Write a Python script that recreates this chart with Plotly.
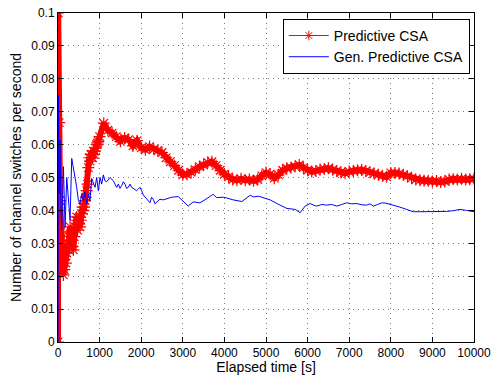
import plotly.graph_objects as go

# Predictive CSA (red, star markers)
red_t = [0, 5, 30, 50, 70, 90, 110, 130, 150, 170, 190, 210, 230, 250, 270, 290, 310, 330, 350, 370,
         390, 410, 430, 450, 470, 490, 510, 530, 550, 570, 590, 610, 630, 650, 670, 690, 710, 730, 750,
         770, 790, 810, 830, 850, 870, 890, 910, 930, 950, 970,
         1000, 1100, 1200, 1300, 1400, 1500, 1600, 1700, 1800, 1900,
         2000, 2100, 2200, 2300, 2400, 2500, 2600, 2700, 2800, 2900,
         3000, 3100, 3200, 3300, 3400, 3500, 3600, 3700, 3800, 3900,
         4000, 4100, 4200, 4300, 4400, 4500, 4600, 4700, 4800, 4900,
         5000, 5100, 5200, 5300, 5400, 5500, 5600, 5700, 5800, 5900,
         6000, 6100, 6200, 6300, 6400, 6500, 6600, 6700, 6800, 6900,
         7000, 7100, 7200, 7300, 7400, 7500, 7600, 7700, 7800, 7900,
         8000, 8100, 8200, 8300, 8400, 8500, 8600, 8700, 8800, 8900,
         9000, 9100, 9200, 9300, 9400, 9500, 9600, 9700, 9800, 9900, 10000]
red_v = [0, 0.1, 0.0667, 0.043, 0.0335, 0.028, 0.024, 0.0204, 0.022, 0.026, 0.024, 0.027, 0.030, 0.028,
         0.032, 0.035, 0.031, 0.033, 0.029, 0.028, 0.032, 0.035, 0.037, 0.038, 0.034, 0.036, 0.038, 0.035,
         0.037, 0.039, 0.041, 0.040, 0.041, 0.043, 0.044, 0.046, 0.048, 0.053, 0.056, 0.055, 0.057, 0.057,
         0.056, 0.058, 0.057, 0.058, 0.059, 0.060, 0.0605, 0.061,
         0.0624, 0.0665, 0.0644, 0.0635, 0.0624, 0.0610, 0.0620, 0.0615, 0.0596, 0.0612,
         0.0590, 0.0584, 0.0594, 0.0586, 0.0582, 0.0576, 0.0560, 0.0548, 0.0536, 0.0522,
         0.0508, 0.0510, 0.0516, 0.0524, 0.0533, 0.0538, 0.0546, 0.0548, 0.0536, 0.0522,
         0.0510, 0.0502, 0.0494, 0.0492, 0.0496, 0.0492, 0.0494, 0.0490, 0.0494, 0.0505,
         0.0515, 0.0510, 0.0498, 0.0508, 0.0522, 0.0528, 0.0530, 0.0534, 0.0538, 0.0530,
         0.0522, 0.0518, 0.0520, 0.0524, 0.0526, 0.0528, 0.0524, 0.0520, 0.0516, 0.0513,
         0.0518, 0.0520, 0.0522, 0.0523, 0.0520, 0.0516, 0.0512, 0.0508, 0.0505, 0.0502,
         0.0514, 0.0514, 0.0512, 0.0508, 0.0504, 0.0498, 0.0494, 0.0492, 0.0490, 0.0490,
         0.0488, 0.0489, 0.0486, 0.0488, 0.0494, 0.0495, 0.0494, 0.0496, 0.0494, 0.0495, 0.0496]

# Gen. Predictive CSA (blue line)
blue_t = [0, 10, 30, 50, 70, 90, 130, 170, 210, 250, 290, 330, 370, 410, 450, 490, 530, 570, 610, 650,
          690, 730, 770, 810, 850, 890, 930, 970, 1010, 1050, 1090, 1130, 1170, 1210, 1250, 1290, 1330,
          1370, 1410, 1450, 1490, 1530, 1570, 1610, 1650, 1690, 1730, 1770, 1810, 1850, 1890, 1930, 1970,
          2010, 2050, 2130, 2210, 2250, 2290, 2330, 2370, 2450, 2530, 2610, 2730, 2890, 3010, 3130, 3250,
          3410, 3530, 3650, 3730, 3810, 3980, 4050, 4210, 4420, 4530, 4620, 4700, 4820, 4900, 5020, 5100,
          5260, 5380, 5500, 5700, 5820, 5940, 6060, 6140, 6220, 6340, 6460, 6580, 6700, 6820, 6940, 7060,
          7180, 7300, 7420, 7500, 7580, 7680, 7780, 7880, 7980, 8100, 8220, 8380, 8540, 8700, 8860, 9020,
          9180, 9340, 9500, 9660, 9820, 10000]
blue_v = [0, 0.075, 0.045, 0.0614, 0.040, 0.034, 0.0533, 0.035, 0.050, 0.043, 0.037, 0.0558, 0.053, 0.050,
          0.047, 0.043, 0.042, 0.045, 0.043, 0.0457, 0.042, 0.045, 0.043, 0.0497, 0.048, 0.047, 0.050, 0.046,
          0.050, 0.048, 0.0508, 0.049, 0.0487, 0.0495, 0.050, 0.0495, 0.049, 0.048, 0.047, 0.048, 0.0467,
          0.0475, 0.0487, 0.048, 0.0467, 0.047, 0.048, 0.047, 0.0467, 0.0462, 0.046, 0.0465, 0.047, 0.046,
          0.0447, 0.0435, 0.0423, 0.044, 0.0434, 0.042, 0.0425, 0.0434, 0.0432, 0.0436, 0.044, 0.0442, 0.0426,
          0.0413, 0.0426, 0.0423, 0.0432, 0.0442, 0.0449, 0.0439, 0.044, 0.0438, 0.0432, 0.0427, 0.0438,
          0.0446, 0.0441, 0.0443, 0.0440, 0.0436, 0.0432, 0.0421, 0.0414, 0.0406, 0.0403, 0.0393, 0.0413,
          0.0421, 0.0416, 0.0413, 0.0418, 0.0416, 0.0418, 0.0413, 0.0418, 0.0423, 0.0420, 0.0421, 0.0417,
          0.0416, 0.0420, 0.0413, 0.0418, 0.0423, 0.0422, 0.0419, 0.0414, 0.041, 0.0403, 0.0396, 0.0396,
          0.0396, 0.0398, 0.0398, 0.0397, 0.0399, 0.0403, 0.0400, 0.0396]

x_ticks = [0, 1000, 2000, 3000, 4000, 5000, 6000, 7000, 8000, 9000, 10000]
x_labels = ["0", "1000", "2000", "3000", "4000", "5000", "6000", "7000", "8000", "9000", "10000"]
y_ticks = [0, 0.01, 0.02, 0.03, 0.04, 0.05, 0.06, 0.07, 0.08, 0.09, 0.1]
y_labels = ["0", "0.01", "0.02", "0.03", "0.04", "0.05", "0.06", "0.07", "0.08", "0.09", "0.1"]

red_marker = dict(symbol="asterisk-open", size=10, color="#ff0000",
                  line=dict(color="#ff0000", width=1.2))

fig = go.Figure()
# Data trace (dense markers form a thick band)
fig.add_trace(go.Scatter(
    x=red_t, y=red_v, mode="lines+markers", name="Predictive CSA", showlegend=False,
    line=dict(color="#ff0000", width=6), marker=red_marker,
))
# Legend-only entry with thin line and one star
fig.add_trace(go.Scatter(
    x=[None], y=[None], mode="lines+markers", name="Predictive CSA",
    line=dict(color="#ff0000", width=1),
    marker=dict(symbol="asterisk-open", size=8, color="#ff0000",
                line=dict(color="#ff0000", width=1)),
))
fig.add_trace(go.Scatter(
    x=blue_t, y=blue_v, mode="lines", name="Gen. Predictive CSA",
    line=dict(color="#0000ff", width=1),
))

axis_common = dict(
    showline=True, linecolor="black", linewidth=1, mirror="allticks",
    ticks="inside", ticklen=5, tickcolor="black",
    showgrid=True, gridcolor="#777777", gridwidth=1, griddash="1px,4px",
    zeroline=False, automargin=False,
    tickfont=dict(family="Liberation Sans, Arial, sans-serif", size=12, color="black"),
)

fig.update_layout(
    width=492, height=375,
    margin=dict(l=58, r=18, t=13, b=33),
    paper_bgcolor="white", plot_bgcolor="white",
    font=dict(family="Liberation Sans, Arial, sans-serif", size=12, color="black"),
    showlegend=True,
    legend=dict(
        x=0.99, y=0.982, xanchor="right", yanchor="top",
        bgcolor="white", bordercolor="black", borderwidth=1,
        font=dict(size=14), tracegroupgap=0, itemwidth=40,
    ),
    xaxis=dict(range=[0, 10000], tickvals=x_ticks, ticktext=x_labels,
               title=dict(text="Elapsed time [s]", font=dict(size=14), standoff=2),
               **axis_common),
    yaxis=dict(range=[0, 0.1], tickvals=y_ticks, ticktext=y_labels,
               title=dict(text="Number of channel switches per second", font=dict(size=14), standoff=6),
               **axis_common),
)

fig.write_html("out.html")
